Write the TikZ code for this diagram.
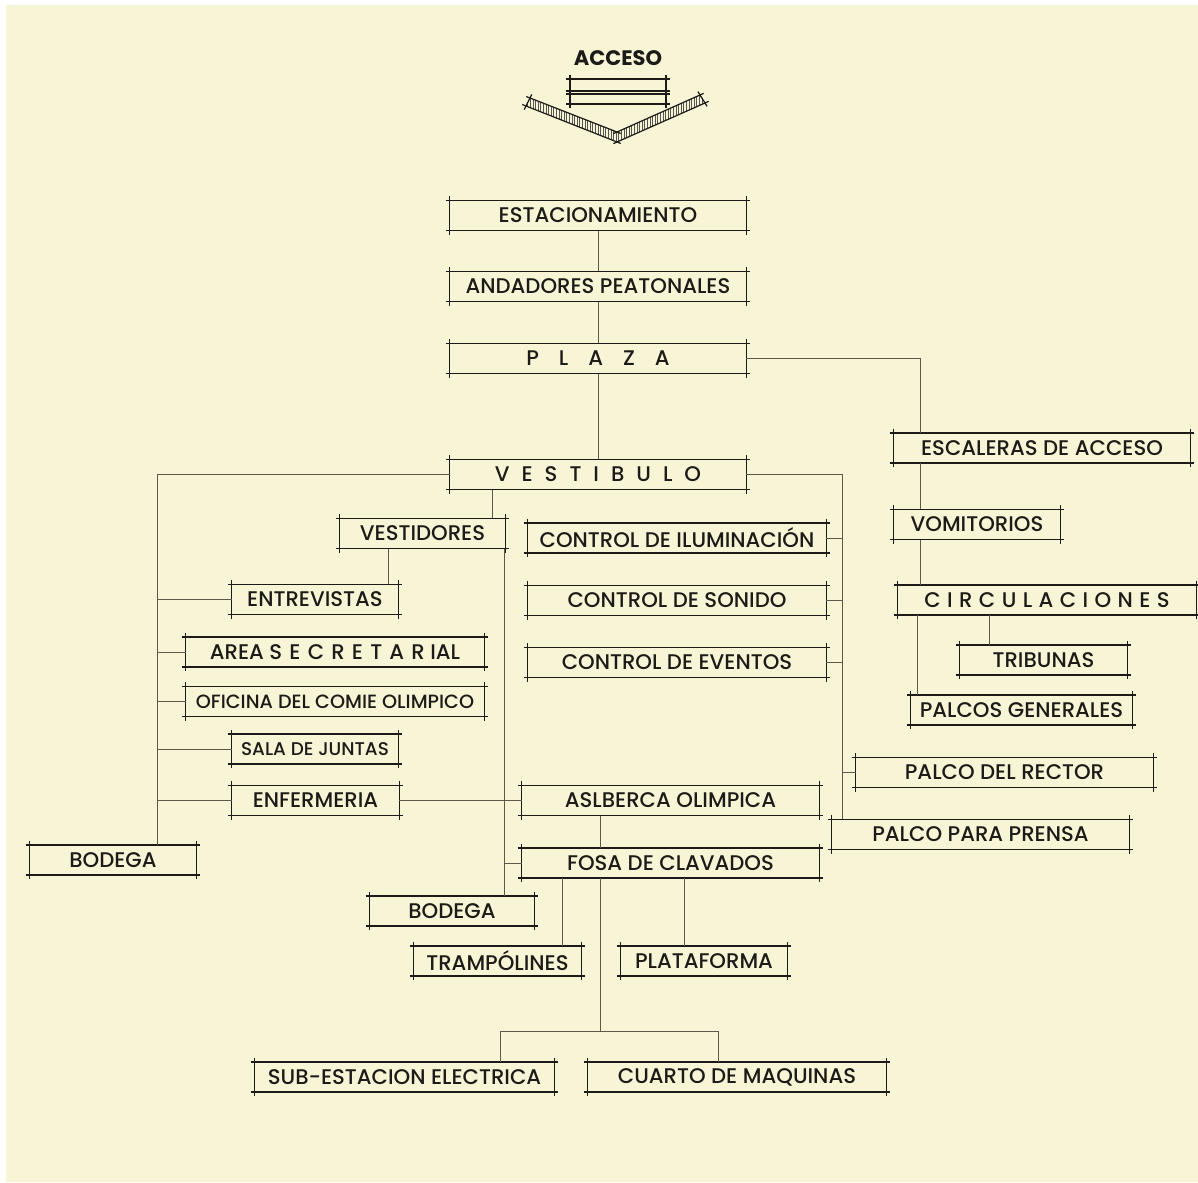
\documentclass[tikz,border=0pt]{standalone}
\usepackage{fontspec}
\setmainfont{Poppins}[UprightFont=* Medium,BoldFont=* Bold]
\usetikzlibrary{calc,patterns.meta}

\definecolor{paper}{HTML}{F8F4D6}
\definecolor{ink}{HTML}{1C1B17}
\definecolor{wire}{HTML}{5E584A}

% letters set apart by a fixed gap
\newcommand{\spaced}[2]{\foreach \c [count=\i] in {#2}{\ifnum\i>1\hspace{#1}\fi\c}}

\tikzset{
  room/.style={inner sep=0pt, minimum width=#1*0.5pt, minimum height=14.75pt, text=ink},
  room/.default=296,
  frame/.style={ink, line width=0.8pt},
  link/.style={wire, line width=0.5pt},
}

\begin{document}
\begin{tikzpicture}[x=0.5pt,y=-0.5pt,font=\fontsize{10.6}{12}\selectfont]
\fill[white] (0,0) rectangle (1198,1182);
\fill[paper] (6,5) rectangle (1198,1182);
\useasboundingbox (0,0) rectangle (1198,1182);

% entrance mark
\node[text=ink,font=\bfseries\fontsize{10.5}{12}\selectfont] (acceso) at (618,58) {ACCESO};
\draw[frame,line width=0.6pt] (566,79) -- (670,79) (566,91) -- (670,91) (566,94) -- (670,94) (566,104) -- (670,104)
  (570,75) -- (570,108) (666,75) -- (666,108);
\fill[pattern={Lines[angle=90,distance=1.3pt,line width=0.45pt]},pattern color=ink!75]
  (530,98) -- (617,132) -- (700,95) -- (705,103) -- (617,142) -- (526,106) -- cycle;
\draw[frame,line width=0.6pt,shorten <=-2pt,shorten >=-2pt] (530,98) -- (617,132);
\draw[frame,line width=0.6pt,shorten <=-2pt,shorten >=-2pt] (526,106) -- (617,142);
\draw[frame,line width=0.6pt,shorten <=-2pt,shorten >=-2pt] (617,132) -- (700,95);
\draw[frame,line width=0.6pt,shorten <=-2pt,shorten >=-2pt] (617,142) -- (705,103);
\draw[frame,line width=0.6pt,shorten <=-2pt,shorten >=-2pt] (530,98) -- (526,106);
\draw[frame,line width=0.6pt,shorten <=-2pt,shorten >=-2pt] (700,95) -- (705,103);

% spaces
\node[room] (estac) at (598,215.5) {ESTACIONAMIENTO};
\node[room] (andad) at (598,286.5) {ANDADORES PEATONALES};
\node[room] (plaza) at (598,358.5) {\spaced{10pt}{P,L,A,Z,A}};
\node[room] (vesti) at (598,474.5) {\spaced{6pt}{V,E,S,T,I,B,U,L,O}};
\node[room] (escal) at (1042,448) {ESCALERAS DE ACCESO};
\node[room=166] (vomit) at (977,524.5) {VOMITORIOS};
\node[room=298] (circ) at (1047,600) {\spaced{3.2pt}{C,I,R,C,U,L,A,C,I,O,N,E,S}};
\node[room=167] (tribu) at (1043.5,660) {TRIBUNAS};
\node[room=221] (palcg) at (1021.5,710) {PALCOS GENERALES};
\node[room=165] (vestid) at (422.5,533.5) {VESTIDORES};
\node[room=298] (ilum) at (677,538) {CONTROL DE ILUMINACIÓN};
\node[room=298] (sonido) at (677,600.5) {CONTROL DE SONIDO};
\node[room=298] (eventos) at (677,662.5) {CONTROL DE EVENTOS};
\node[room=166] (entrev) at (315,599.5) {ENTREVISTAS};
\node[room=298] (secret) at (335,652) {AREA \spaced{3.6pt}{S,E,C,R,E,T,A,R} IAL};
\node[room=298,font=\fontsize{9.6}{12}\selectfont] (ofic) at (335,701.5) {OFICINA DEL COMIE OLIMPICO};
\node[room=166,font=\fontsize{9.2}{12}\selectfont] (juntas) at (315,749) {SALA DE JUNTAS};
\node[room=167] (enferm) at (315.5,800.5) {ENFERMERIA};
\node[room=166] (bodega1) at (113,860) {BODEGA};
\node[room=297] (alberca) at (670.5,800.5) {ASLBERCA OLIMPICA};
\node[room=297] (fosa) at (670.5,863) {FOSA DE CLAVADOS};
\node[room=297] (rector) at (1004.5,772.5) {PALCO DEL RECTOR};
\node[room=297] (prensa) at (980.5,834.5) {PALCO PARA PRENSA};
\node[room=164] (bodega2) at (452,911) {BODEGA};
\node[room=167] (tramp) at (497.5,961) {TRAMPÓLINES};
\node[room=166] (plataf) at (704,961) {PLATAFORMA};
\node[room=299] (subest) at (404.5,1077) {SUB-ESTACION ELECTRICA};
\node[room=298] (cuarto) at (737,1077) {CUARTO DE MAQUINAS};

% drafted frames, lines run past the corners
\foreach \n in {estac,andad,plaza,vesti,escal,vomit,circ,tribu,palcg,vestid,ilum,sonido,eventos,
  entrev,secret,ofic,juntas,enferm,bodega1,alberca,fosa,rector,prensa,bodega2,tramp,plataf,subest,cuarto}{
  \draw[frame] ($(\n.north west)+(-4,0)$) -- ($(\n.north east)+(4,0)$)
               ($(\n.south west)+(-4,0)$) -- ($(\n.south east)+(4,0)$)
               ($(\n.north west)+(0,-4)$) -- ($(\n.south west)+(0,4)$)
               ($(\n.north east)+(0,-4)$) -- ($(\n.south east)+(0,4)$);
}

% trunk lines
\coordinate (stair) at (920,0);
\coordinate (gen) at (917,0);
\coordinate (trib) at (989,0);
\coordinate (leftbus) at (157,0);
\coordinate (midbus) at (504,0);
\coordinate (rightbus) at (842,0);
\coordinate (dress) at (492,0);
\coordinate (interv) at (388,0);
\coordinate (pit) at (600,0);
\coordinate (springs) at (562,0);
\coordinate (tower) at (684,0);
\coordinate (subx) at (500,0);
\coordinate (machx) at (718,0);
\coordinate (split) at (600,1031);

\draw[link] (estac.south) -- (andad.north) (andad.south) -- (plaza.north) (plaza.south) -- (vesti.north);

% stands
\draw[link] (plaza.east) -| (escal.north -| stair);
\draw[link] (escal.south -| stair) -- (vomit.north -| stair) (vomit.south -| stair) -- (circ.north -| stair);
\draw[link] (circ.south -| gen) -- (palcg.north -| gen);
\draw[link] (circ.south -| trib) -- (tribu.north -| trib);

% offices
\draw[link] (vesti.west) -| (bodega1.north -| leftbus);
\foreach \n in {entrev,secret,ofic,juntas,enferm}{\draw[link] (\n.west -| leftbus) -- (\n.west);}
\draw[link] (vesti.south -| dress) -- (vestid.north -| dress);
\draw[link] (vestid.south -| interv) -- (entrev.north -| interv);
\draw[link] (vestid.south -| midbus) -- (bodega2.north -| midbus);
\draw[link] (fosa.west -| midbus) -- (fosa.west);
\draw[link] (enferm.east) -- (alberca.west);

% controls and boxes
\draw[link] (vesti.east) -| (prensa.north -| rightbus);
\foreach \n in {ilum,sonido,eventos}{\draw[link] (\n.east) -- (\n.east -| rightbus);}
\draw[link] (rector.west -| rightbus) -- (rector.west);

% pool and services
\draw[link] (alberca.south -| pit) -- (fosa.north -| pit);
\draw[link] (fosa.south -| springs) -- (tramp.north -| springs);
\draw[link] (fosa.south -| tower) -- (plataf.north -| tower);
\draw[link] (fosa.south -| pit) -- (split);
\draw[link] (subest.north -| subx) |- (split) -| (cuarto.north -| machx);
\end{tikzpicture}
\end{document}
